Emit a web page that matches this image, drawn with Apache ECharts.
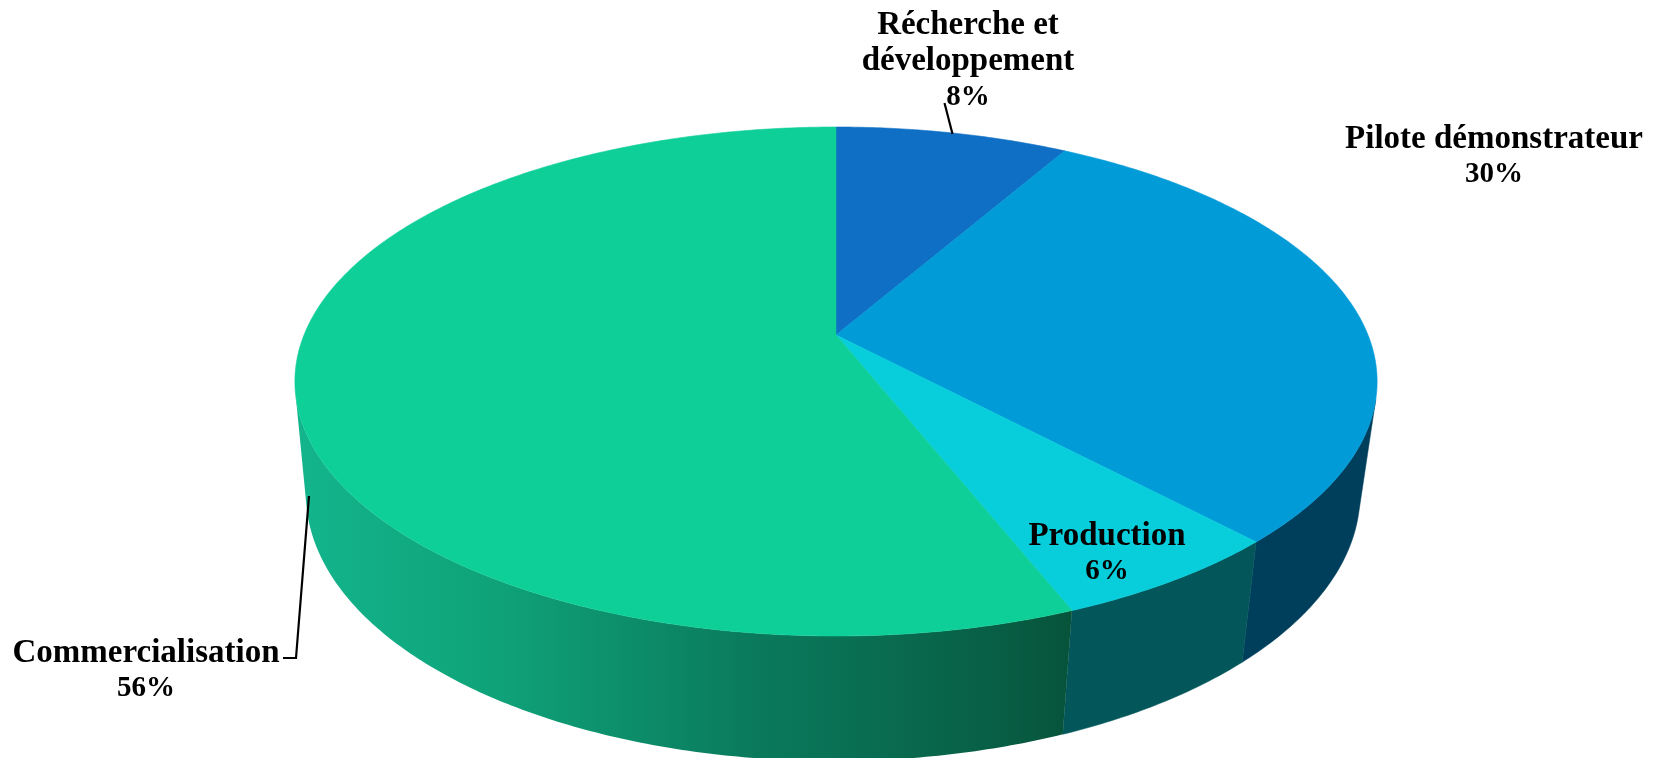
<!DOCTYPE html>
<html><head><meta charset="utf-8">
<style>html,body{margin:0;padding:0;background:#fff}#c{width:1661px;height:758px}</style>
<script src="https://cdn.jsdelivr.net/npm/echarts@6/dist/echarts.min.js"></script>
</head><body><div id="c"></div>
<script>
// Data
const categories = ['Récherche et\ndéveloppement', 'Pilote démonstrateur', 'Production', 'Commercialisation'];
const values = [8.3, 29.7, 6, 56];
const topColors = ['#0e6fc4', '#019bd8', '#08cedb', '#0fcf99'];
const sideColors = ['#0a4f86', '#003f5c', '#03565a', null];
const commercialSideStops = [[0, '#13b58d'], [0.26, '#0fa278'], [0.59, '#0a7a5c'], [0.9, '#085f45'], [1, '#06533a']];

// Perspective disc model (layout only)
const disc = {cx: 836, cy: 335, a: 532, b: 246, k: 0.1827, scaleX: 0.974, scaleY: 1.05, drop: 110, shift: -3};
// Label anchors and leader lines (layout only)
const labelAnchors = [[968, 61.5], [1494, 157], [1107, 554], [146, 671]];
const labelLeaders = [[[944.5, 103], [952.5, 134]], null, null, [[283, 658], [296, 658], [309, 496]]];

const total = values.reduce((s, v) => s + v, 0);
const TWO_PI = Math.PI * 2;
function startAngle(i) {
  let s = 0;
  for (let j = 0; j < i; j++) s += values[j];
  return s / total * TWO_PI;
}
function topPoint(t) {
  const u = Math.sin(t), v = -Math.cos(t), w = 1 - disc.k * v;
  return [disc.cx + disc.a * u / w, disc.cy + disc.b * v / w];
}
function bottomPoint(t) {
  const u = Math.sin(t), v = -Math.cos(t), w = 1 - disc.k * v;
  return [disc.cx + disc.shift + disc.scaleX * disc.a * u / w, disc.cy + disc.drop + disc.scaleY * disc.b * v / w];
}
function arc(pointFn, t0, t1) {
  const n = Math.max(2, Math.ceil((t1 - t0) / 0.01));
  const pts = [];
  for (let i = 0; i <= n; i++) pts.push(pointFn(t0 + (t1 - t0) * i / n));
  return pts;
}
// Common outer tangent of the upper and lower rims on one side (+1 right, -1 left)
function commonTangent(side) {
  function support(fn, n) {
    let best = 0, bestD = -Infinity;
    for (let t = 0; t < TWO_PI; t += 0.001) {
      const p = fn(t), d = p[0] * n[0] + p[1] * n[1];
      if (d > bestD) { bestD = d; best = t; }
    }
    return best;
  }
  let n = [side, 0], tTop = 0, tBot = 0;
  for (let it = 0; it < 8; it++) {
    tTop = support(topPoint, n);
    tBot = support(bottomPoint, n);
    const A = topPoint(tTop), B = bottomPoint(tBot);
    const dx = B[0] - A[0], dy = B[1] - A[1], len = Math.hypot(dx, dy);
    n = side > 0 ? [dy / len, -dx / len] : [-dy / len, dx / len];
  }
  return [tTop, tBot];
}
const rightTan = commonTangent(1);
const leftTan = commonTangent(-1);

function renderSide(params, api) {
  const i = params.dataIndex;
  const s0 = startAngle(i), s1 = startAngle(i + 1);
  const a0 = Math.max(s0, rightTan[0]), a1 = Math.min(s1, leftTan[0]);
  const b0 = Math.max(s0, rightTan[1]), b1 = Math.min(s1, leftTan[1]);
  if (a1 <= a0 || b1 <= b0) return {type: 'group', children: []};
  const points = arc(topPoint, a0, a1).concat(arc(bottomPoint, b0, b1).reverse());
  const fill = sideColors[i] || new echarts.graphic.LinearGradient(0, 0, 1, 0,
    commercialSideStops.map(s => ({offset: s[0], color: s[1]})));
  return {type: 'polygon', shape: {points}, style: {fill, stroke: sideColors[i] ? fill : null, lineWidth: 0.5}};
}
function renderTop(params, api) {
  const i = params.dataIndex;
  const t0 = startAngle(i), t1 = t0 + api.value(0) / total * TWO_PI;
  const points = [[disc.cx, disc.cy]].concat(arc(topPoint, t0, t1));
  return {type: 'polygon', shape: {points}, style: {fill: topColors[i], stroke: topColors[i], lineWidth: 0.6}};
}
function renderLabel(params, api) {
  const i = params.dataIndex;
  const nameLines = categories[i].split('\n').map(l => '{n|' + l + '}').join('\n');
  const children = [{
    type: 'text',
    style: {
      text: nameLines + '\n{p|' + Math.round(api.value(0)) + '%}',
      x: labelAnchors[i][0], y: labelAnchors[i][1],
      align: 'center', verticalAlign: 'middle',
      rich: {
        n: {font: 'bold 33px "Liberation Serif"', lineHeight: 36, fill: '#000', align: 'center'},
        p: {font: 'bold 29px "Liberation Serif"', lineHeight: 36, fill: '#000', align: 'center'}
      }
    }
  }];
  if (labelLeaders[i]) children.push({
    type: 'polyline', shape: {points: labelLeaders[i]},
    style: {stroke: '#000', lineWidth: 2.2, fill: null}
  });
  return {type: 'group', children};
}
const seriesData = values.map((v, i) => ({name: categories[i], value: v}));
const chart = echarts.init(document.getElementById('c'), null, {renderer: 'canvas'});
chart.setOption({
  animation: false,
  backgroundColor: '#fff',
  tooltip: {show: false},
  series: [
    {type: 'custom', coordinateSystem: 'none', renderItem: renderSide, data: seriesData, z: 1, silent: true},
    {type: 'custom', coordinateSystem: 'none', renderItem: renderTop, data: seriesData, z: 2, silent: true},
    {type: 'custom', coordinateSystem: 'none', renderItem: renderLabel, data: seriesData, z: 3, silent: true}
  ]
});
</script></body></html>
